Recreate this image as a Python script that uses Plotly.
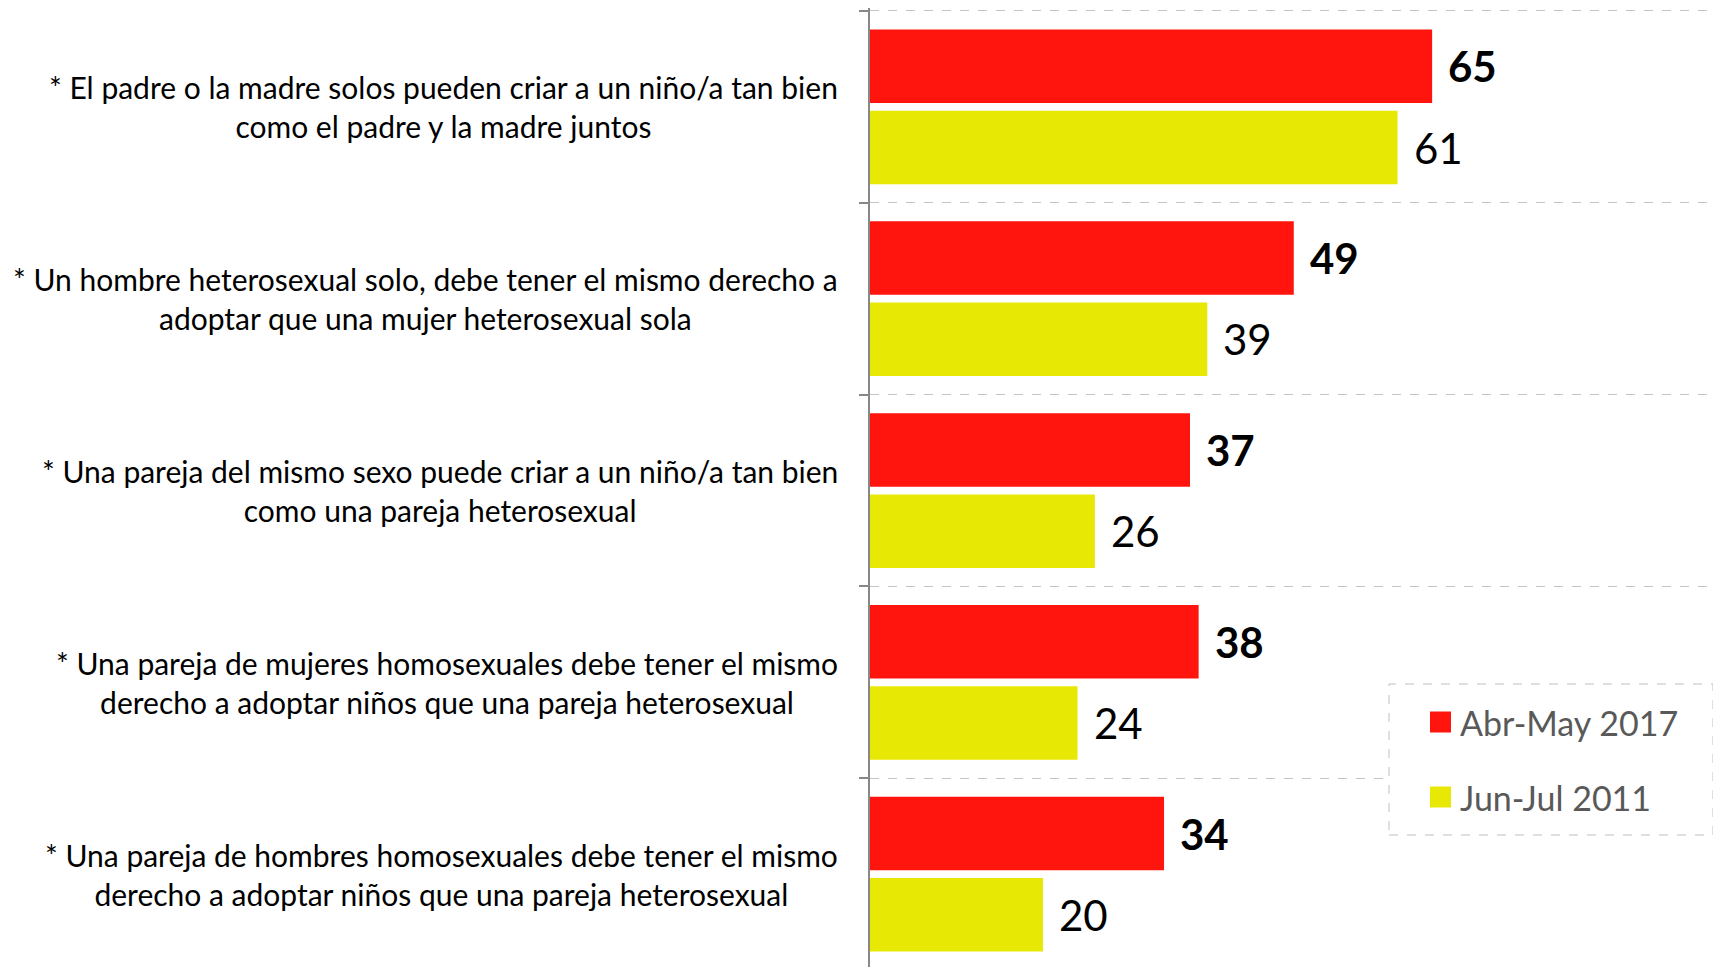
import plotly.graph_objects as go

categories = [
    "* El padre o la madre solos pueden criar a un niño/a tan bien<br>como el padre y la madre juntos",
    "* Un hombre heterosexual solo, debe tener el mismo derecho a<br>adoptar que una mujer heterosexual sola",
    "* Una pareja del mismo sexo puede criar a un niño/a tan bien<br>como una pareja heterosexual",
    "* Una pareja de mujeres homosexuales debe tener el mismo<br>derecho a adoptar niños que una pareja heterosexual",
    "* Una pareja de hombres homosexuales debe tener el mismo<br>derecho a adoptar niños que una pareja heterosexual",
]
series_names = ["Abr-May 2017", "Jun-Jul 2011"]
values_2017 = [65, 49, 37, 38, 34]
values_2011 = [61, 39, 26, 24, 20]
colors = ["#FF150D", "#E8E805"]

# page body has an 8px default margin
OFF = 8
W, H = 1721 - OFF, 967 - OFF
ML, MR, MT, MB = 870 - OFF, 0, 0, 0
PW, PH = W - ML - MR, H - MT - MB
FONT = "Lato"

BARGAP = 0.153
BARGROUPGAP = 0.095

def px_x(px):  # page pixel -> paper
    return (px - OFF - ML) / PW

def px_y(py):
    return (H - MB - (py - OFF)) / PH

fig = go.Figure()
idx = list(range(len(categories)))
for name, vals, col in zip(series_names, [values_2017, values_2011], colors):
    fig.add_trace(go.Bar(
        y=idx, x=vals, name=name, orientation="h",
        marker=dict(color=col, line=dict(width=0)),
        showlegend=False, hoverinfo="x",
    ))

annotations = []
for i, lab in enumerate(categories):
    annotations.append(dict(
        x=0, xref="paper", y=i, yref="y", xanchor="right", yanchor="middle",
        xshift=-30, text=lab, showarrow=False, align="center",
        font=dict(family=FONT, size=30, color="#000000"),
    ))
slot = (1 - BARGAP) / 2
for s, vals in enumerate([values_2017, values_2011]):
    off = (-slot / 2) if s == 0 else (slot / 2)
    for i, v in enumerate(vals):
        txt = f"<b>{v}</b>" if s == 0 else f"{v}"
        annotations.append(dict(
            x=v, xref="x", y=i + off, yref="y", xanchor="left", yanchor="middle",
            xshift=14, text=txt, showarrow=False,
            font=dict(family=FONT, size=42, color="#000000"),
        ))

shapes = []
shapes.append(dict(type="rect", xref="paper", yref="paper",
                   x0=px_x(1389), x1=px_x(1713), y0=px_y(835), y1=px_y(684),
                   line=dict(color="#BFBFBF", width=1, dash="dash"),
                   fillcolor="#FFFFFF", layer="above"))
leg_centers = [722, 797]
for name, col, cy in zip(series_names, colors, leg_centers):
    shapes.append(dict(type="rect", xref="paper", yref="paper",
                       x0=px_x(1430), x1=px_x(1451), y0=px_y(cy + 10.5), y1=px_y(cy - 10.5),
                       line=dict(width=0), fillcolor=col, layer="above"))
    annotations.append(dict(
        x=px_x(1458), xref="paper", y=px_y(cy), yref="paper",
        xanchor="left", yanchor="middle", text=name, showarrow=False,
        font=dict(family=FONT, size=34, color="#595959"),
    ))

fig.update_layout(
    width=W, height=H,
    margin=dict(l=ML, r=MR, t=MT, b=MB, pad=0),
    paper_bgcolor="white", plot_bgcolor="white",
    barmode="group", bargap=BARGAP, bargroupgap=BARGROUPGAP,
    showlegend=False,
    xaxis=dict(range=[0, 98.4], showgrid=False, zeroline=False, showline=False,
               showticklabels=False, ticks=""),
    yaxis=dict(type="linear", range=[4.484, -0.5156], tickmode="array",
               tickvals=[-0.5, 0.5, 1.5, 2.5, 3.5, 4.5],
               showgrid=True, gridcolor="#C4C4C4", griddash="dash", gridwidth=1,
               zeroline=False, showline=True, linecolor="#888888", linewidth=1.5,
               ticks="outside", ticklen=9, tickcolor="#888888", tickwidth=1.5,
               showticklabels=False),
    annotations=annotations, shapes=shapes,
)

fig.write_html("out.html")
